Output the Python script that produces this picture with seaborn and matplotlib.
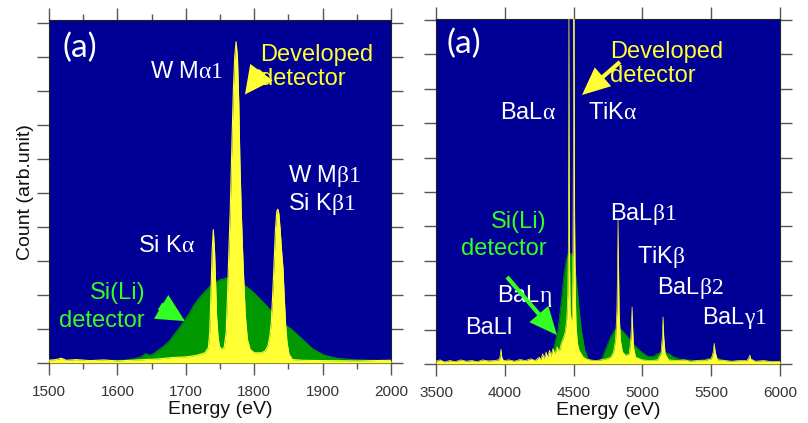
import matplotlib
matplotlib.use("Agg")
import matplotlib.pyplot as plt
import seaborn as sns
import numpy as np
import pandas as pd

# ---------------- data ----------------
# Left panel: developed detector (yellow)
left_dev_E = [1500, 1510, 1518, 1525, 1540, 1560, 1580, 1600, 1620, 1640, 1660, 1680,
              1700, 1715, 1725, 1728, 1733, 1735, 1737, 1738.5, 1740.2, 1742, 1743.5, 1745,
              1747, 1749, 1752, 1756, 1759, 1761, 1763, 1765, 1767.5, 1769.5, 1771.5,
              1773.5, 1775.5, 1777.5, 1779, 1781, 1783, 1785, 1787, 1790, 1794, 1800,
              1810, 1816, 1820, 1823, 1825, 1827, 1829, 1831, 1833, 1834.5, 1836, 1838,
              1840, 1842, 1844, 1846, 1848, 1851, 1856, 1870, 1900, 1950, 2000]
left_dev_C = [0.08, 0.10, 0.14, 0.08, 0.10, 0.07, 0.09, 0.06, 0.08, 0.10, 0.12, 0.16,
              0.18, 0.22, 0.28, 0.30, 0.45, 0.90, 2.20, 3.30, 3.92, 3.30, 2.40, 1.40,
              0.80, 0.50, 0.40, 0.45, 0.90, 2.00, 3.30, 4.50, 6.50, 8.00, 9.00,
              9.44, 9.00, 7.60, 6.00, 4.50, 3.30, 2.30, 1.40, 0.70, 0.40, 0.30,
              0.30, 0.35, 0.50, 0.80, 1.20, 2.00, 2.90, 3.90, 4.45, 4.52, 4.40, 3.90,
              3.30, 2.80, 1.90, 1.10, 0.60, 0.25, 0.10, 0.08, 0.07, 0.06, 0.08]
# Left panel: Si(Li) detector (green)
left_sili_E = [1500, 1540, 1580, 1610, 1625, 1635, 1641, 1648, 1655, 1665, 1675, 1685,
               1695, 1705, 1712, 1720, 1730, 1740, 1750, 1760, 1768, 1778, 1790, 1800,
               1810, 1818, 1830, 1845, 1855, 1868, 1885, 1902, 1920, 1940, 1970, 2000]
left_sili_C = [0.07, 0.06, 0.07, 0.08, 0.12, 0.18, 0.27, 0.22, 0.30, 0.45, 0.62, 0.88,
               1.15, 1.45, 1.70, 1.92, 2.14, 2.33, 2.44, 2.50, 2.48, 2.38, 2.22, 2.05,
               1.85, 1.68, 1.42, 1.12, 0.98, 0.74, 0.42, 0.23, 0.14, 0.10, 0.08, 0.07]

# Right panel: developed detector (yellow)
right_dev_E = [3500, 3530, 3560, 3600, 3640, 3680, 3720, 3760, 3800, 3840, 3880, 3920,
               3955, 3965, 3972, 3978, 3990, 4030, 4070, 4110, 4150, 4190, 4220, 4250,
               4262, 4275, 4285, 4300, 4310, 4325, 4335, 4350, 4365, 4380, 4395, 4410,
               4425, 4440, 4450, 4458, 4463, 4466, 4469, 4475, 4482, 4490, 4494, 4497.5,
               4500.5, 4503.5, 4507, 4512, 4518, 4528, 4540, 4555, 4570, 4590, 4620, 4660, 4700,
               4740, 4770, 4790, 4805, 4815, 4820, 4823, 4826, 4831, 4840, 4855, 4880,
               4905, 4915, 4921, 4925, 4929, 4935, 4950, 5000, 5060, 5110, 5135, 5145,
               5150, 5155, 5165, 5190, 5250, 5300, 5350, 5400, 5450, 5500, 5515, 5522,
               5529, 5545, 5600, 5650, 5700, 5760, 5775, 5781, 5787, 5820, 5880, 5940, 6000]
right_dev_C = [0.08, 0.12, 0.06, 0.10, 0.07, 0.12, 0.08, 0.10, 0.07, 0.12, 0.09, 0.10,
               0.12, 0.20, 0.43, 0.20, 0.10, 0.12, 0.08, 0.13, 0.10, 0.15, 0.10, 0.20,
               0.12, 0.30, 0.15, 0.35, 0.20, 0.40, 0.22, 0.45, 0.28, 0.50, 0.35, 0.60,
               0.75, 0.95, 1.30, 2.00, 4.00, 10.5, 3.50, 1.60, 1.20, 1.40, 2.40, 5.50,
               10.5, 10.5, 4.50, 2.20, 1.10, 0.60, 0.40, 0.30, 0.20, 0.15, 0.12, 0.10, 0.12,
               0.15, 0.20, 0.35, 0.70, 1.60, 3.00, 4.20, 3.00, 1.50, 0.70, 0.35, 0.25,
               0.30, 0.70, 1.20, 1.66, 1.10, 0.50, 0.20, 0.12, 0.10, 0.12, 0.30, 0.80,
               1.37, 0.80, 0.30, 0.12, 0.10, 0.12, 0.08, 0.10, 0.10, 0.15, 0.35, 0.60,
               0.35, 0.12, 0.10, 0.08, 0.10, 0.10, 0.20, 0.26, 0.15, 0.08, 0.10, 0.07, 0.08]
# Right panel: Si(Li) detector (green)
right_sili_E = [3500, 3700, 3900, 4100, 4250, 4300, 4330, 4355, 4386, 4410, 4430, 4448,
                4462, 4480, 4495, 4510, 4525, 4540, 4556, 4580, 4605, 4640, 4680, 4710,
                4740, 4770, 4800, 4835, 4870, 4900, 4930, 4965, 5005, 5040, 5080, 5110,
                5150, 5190, 5230, 5272, 5330, 5400, 5450, 5500, 5526, 5560, 5620, 5700, 6000]
right_sili_C = [0.05, 0.06, 0.06, 0.07, 0.10, 0.15, 0.22, 0.45, 1.00, 1.80, 2.60, 3.05,
                3.20, 3.22, 3.15, 2.80, 2.20, 1.60, 1.00, 0.42, 0.15, 0.06, 0.06, 0.20,
                0.50, 0.80, 1.00, 1.04, 0.90, 0.75, 0.60, 0.45, 0.31, 0.22, 0.22, 0.30,
                0.36, 0.30, 0.20, 0.14, 0.12, 0.10, 0.13, 0.17, 0.18, 0.15, 0.08, 0.07, 0.06]

left_xticks = [1500, 1600, 1700, 1800, 1900, 2000]
right_xticks = [3500, 4000, 4500, 5000, 5500, 6000]

# ---------------- style ----------------
BLUE = "#000096"
GREEN = "#009a00"
YELLOW = "#ffff33"
LIME = "#33ff22"
TICKC = "#555555"
LABC = "#333333"

plt.rcParams["font.family"] = ["Liberation Sans", "DejaVu Sans"]
plt.rcParams["mathtext.fontset"] = "custom"
plt.rcParams["mathtext.rm"] = "Liberation Serif"
plt.rcParams["mathtext.it"] = "Liberation Serif"
plt.rcParams["mathtext.bf"] = "Liberation Serif:bold"

W, H = 808, 423
fig = plt.figure(figsize=(W / 100, H / 100), dpi=100)


def frac(l, r, t, b):
    return [l / W, 1 - b / H, (r - l) / W, (b - t) / H]


axL = fig.add_axes(frac(49, 391, 20.5, 363))
axR = fig.add_axes(frac(436, 780, 19, 364))


def draw(ax, E, C, color, z, lw):
    df = pd.DataFrame({"E": E, "C": C})
    ax.fill_between(df["E"], 0, df["C"], color=color, lw=0, zorder=z)
    sns.lineplot(data=df, x="E", y="C", ax=ax, color=color, lw=lw,
                 estimator=None, sort=False, zorder=z + 0.1)


draw(axL, left_sili_E, left_sili_C, GREEN, 2, 0.8)
draw(axL, left_dev_E, left_dev_C, YELLOW, 3, 0.8)
draw(axR, right_sili_E, right_sili_C, GREEN, 2, 0.5)
draw(axR, right_dev_E, right_dev_C, YELLOW, 3, 0.5)

for ax, xt, xlim, ytop in [(axL, left_xticks, (1500, 2000), 10.065),
                           (axR, right_xticks, (3500, 6000), 10.03)]:
    ax.set_facecolor(BLUE)
    ax.set_xlim(*xlim)
    ax.set_ylim(0, ytop)
    ax.set_xticks(xt)
    ax.set_yticks(range(0, 11))
    ax.tick_params(axis="both", which="both", direction="out", color=TICKC,
                   top=True, right=True, labelleft=False, width=1.0)
    ax.tick_params(axis="both", which="major", length=8.6)
    ax.tick_params(axis="x", labelsize=11, labelcolor=LABC, pad=7)
    ax.set_xlabel("Energy (eV)", fontsize=14, color="#111111", labelpad=2)
    ax.set_ylabel("")
    for s in ax.spines.values():
        s.set_color("#222222")
        s.set_linewidth(0.8)

axL.set_xticks([1550, 1650, 1750, 1850, 1950], minor=True)
axL.tick_params(axis="x", which="minor", length=4.3)
axL.set_ylabel("Count (arb.unit)", fontsize=14, color="#111111", labelpad=2)

FS = 17


def txt(ax, x, y, s, color="white", ha="left", va="center", fs=FS, **kw):
    ax.text(x, y, s, color=color, ha=ha, va=va, fontsize=fs, zorder=10, **kw)


def arrow(ax, tail, tip, color, hl, hw, tw):
    ax.annotate("", xy=tip, xytext=tail, zorder=11,
                arrowprops=dict(arrowstyle=f"simple,head_length={hl},head_width={hw},tail_width={tw}",
                                color=color, lw=0, shrinkA=0, shrinkB=0, mutation_scale=20))


# Left panel labels
txt(axL, 1545, 9.27, "(a)", ha="center", fs=24, family=["Lato", "DejaVu Sans"])
txt(axL, 1647.7, 8.54, r"W M$\alpha1$")
txt(axL, 1808.5, 8.70, "Developed\ndetector", color=YELLOW, linespacing=1.15)
arrow(axL, (1811.4, 8.57), (1786.5, 7.89), YELLOW, 1.0, 1.0, 0.3)
txt(axL, 1630, 3.45, r"Si K$\alpha$")
txt(axL, 1849.4, 5.50, r"W M$\beta1$")
txt(axL, 1849.4, 4.66, r"Si K$\beta1$")
txt(axL, 1640.4, 2.06, "Si(Li)", color=LIME, ha="right")
txt(axL, 1640.4, 1.23, "detector", color=LIME, ha="right")
arrow(axL, (1662.3, 1.67), (1698.8, 1.23), LIME, 1.0, 1.0, 0.3)

# Right panel labels
txt(axR, 3703.5, 9.30, "(a)", ha="center", fs=24, family=["Lato", "DejaVu Sans"])
txt(axR, 4764.5, 8.72, "Developed\ndetector", color=YELLOW, linespacing=1.15)
arrow(axR, (4837, 8.78), (4561, 7.82), YELLOW, 1.0, 0.9, 0.15)
txt(axR, 3965, 7.30, r"BaL$\alpha$")
txt(axR, 4604.7, 7.30, r"TiK$\alpha$")
txt(axR, 4306.7, 4.14, "Si(Li)", color=LIME, ha="right")
txt(axR, 4306.7, 3.34, "detector", color=LIME, ha="right")
arrow(axR, (4016, 2.53), (4379, 0.84), LIME, 1.0, 0.9, 0.15)
txt(axR, 3943, 1.98, r"BaL$\eta$")
txt(axR, 3711, 1.06, "BaLl")
txt(axR, 4764.5, 4.36, r"BaL$\beta1$")
txt(axR, 4961, 3.10, r"TiK$\beta$")
txt(axR, 5106, 2.22, r"BaL$\beta2$")
txt(axR, 5433, 1.35, r"BaL$\gamma1$")

fig.savefig("out.png", dpi=100)
